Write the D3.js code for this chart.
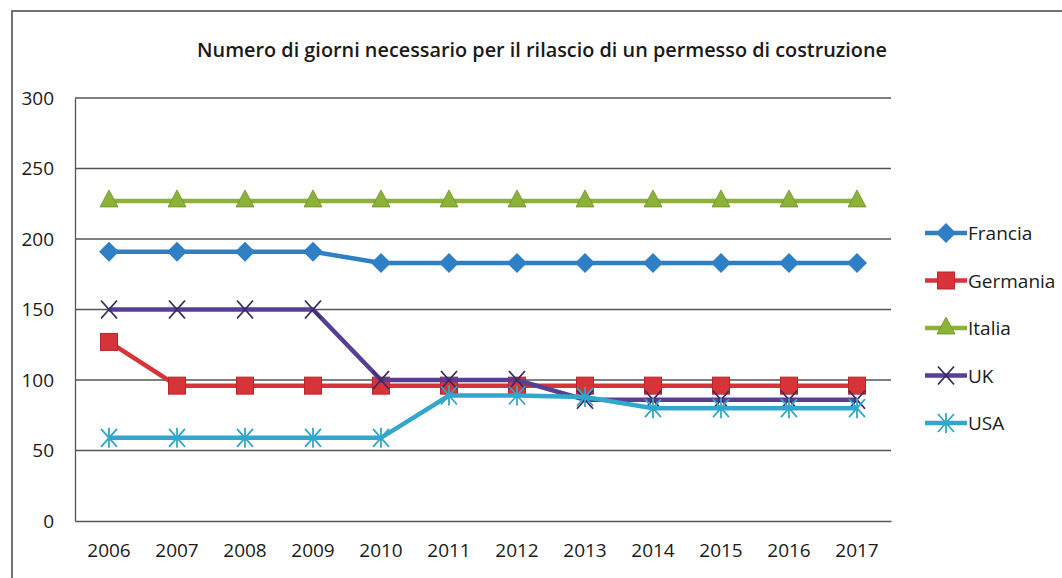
<!DOCTYPE html>
<html lang="it">
<head>
<meta charset="UTF-8">
<title>Permessi di costruzione</title>
<script src="https://cdnjs.cloudflare.com/ajax/libs/d3/7.8.5/d3.min.js"></script>
<style>
  body { margin: 0; background: #fff; }
  text { font-family: "Open Sans", "Liberation Sans", sans-serif; fill: #1a1a1a; }
</style>
</head>
<body>
<svg id="chart" width="1062" height="578"></svg>
<script>
  const years = [2006, 2007, 2008, 2009, 2010, 2011, 2012, 2013, 2014, 2015, 2016, 2017];
  const yTicks = [0, 50, 100, 150, 200, 250, 300];

  const francia  = [191, 191, 191, 191, 183, 183, 183, 183, 183, 183, 183, 183];
  const germania = [127, 96, 96, 96, 96, 96, 96, 96, 96, 96, 96, 96];
  const italia   = [227, 227, 227, 227, 227, 227, 227, 227, 227, 227, 227, 227];
  const uk       = [150, 150, 150, 150, 100, 100, 100, 86, 86, 86, 86, 86];
  const usa      = [59, 59, 59, 59, 59, 89, 89, 88, 80, 80, 80, 80];

  const series = [
    { name: 'Francia',  values: francia,  color: '#2f7fc4', marker: 'diamond' },
    { name: 'Germania', values: germania, color: '#d7343a', marker: 'square' },
    { name: 'Italia',   values: italia,   color: '#8cb23a', marker: 'triangle' },
    { name: 'UK',       values: uk,       color: '#583f92', marker: 'x' },
    { name: 'USA',      values: usa,      color: '#31a7cb', marker: 'star' }
  ];

  const svg = d3.select('#chart');
  const plot = { left: 75, right: 891, top: 98, bottom: 521 };

  // outer frame (only top and left edges show in the scan)
  svg.append('path')
    .attr('d', 'M12,578 L12,11 L1062,11')
    .attr('fill', 'none')
    .attr('stroke', '#444')
    .attr('stroke-width', 1.5);

  svg.append('text')
    .attr('x', 542)
    .attr('y', 57)
    .attr('text-anchor', 'middle')
    .attr('font-size', 19)
    .attr('font-weight', 600)
    .attr('textLength', 690)
    .attr('lengthAdjust', 'spacingAndGlyphs')
    .text('Numero di giorni necessario per il rilascio di un permesso di costruzione');

  const x = d3.scaleBand().domain(years).range([plot.left, plot.right]);
  const y = d3.scaleLinear().domain([0, 300]).range([plot.bottom, plot.top]);

  // gridlines
  svg.append('g')
    .selectAll('line')
    .data(yTicks.filter(d => d > 0))
    .enter()
    .append('line')
    .attr('x1', plot.left)
    .attr('x2', plot.right)
    .attr('y1', d => y(d))
    .attr('y2', d => y(d))
    .attr('stroke', '#555')
    .attr('stroke-width', 1.3);

  const yAxis = svg.append('g')
    .attr('transform', `translate(${plot.left},0)`)
    .call(d3.axisLeft(y).tickValues(yTicks).tickSize(0).tickPadding(21));
  yAxis.select('.domain').attr('stroke', '#555').attr('stroke-width', 1.3);
  yAxis.selectAll('text').attr('font-size', 19).attr('fill', '#1a1a1a');

  const xAxis = svg.append('g')
    .attr('transform', `translate(0,${plot.bottom})`)
    .call(d3.axisBottom(x).tickSize(0).tickPadding(23));
  xAxis.select('.domain').attr('stroke', '#555').attr('stroke-width', 1.3);
  xAxis.selectAll('text').attr('font-size', 19).attr('fill', '#1a1a1a');

  const cx = d => x(d) + x.bandwidth() / 2;
  const line = d3.line()
    .x((d, i) => cx(years[i]))
    .y(d => y(d));

  function drawMarker(g, type, color) {
    if (type === 'diamond') {
      g.append('path').attr('d', 'M0,-10 L10,0 L0,10 L-10,0 Z').attr('fill', color);
    } else if (type === 'square') {
      g.append('rect').attr('x', -8.5).attr('y', -8.5).attr('width', 17).attr('height', 17)
        .attr('fill', color).attr('stroke', '#b8262c').attr('stroke-width', 1);
    } else if (type === 'triangle') {
      g.append('path').attr('d', 'M0,-11 L9,6 L-9,6 Z').attr('fill', color)
        .attr('stroke', '#6f8f2a').attr('stroke-width', 0.8);
    } else if (type === 'x') {
      g.append('path').attr('d', 'M-8,-9 L8,9 M-8,9 L8,-9')
        .attr('stroke', '#3a2a66').attr('stroke-width', 1.8);
    } else if (type === 'star') {
      g.append('path').attr('d', 'M-8,-9 L8,9 M-8,9 L8,-9 M0,-10 L0,10')
        .attr('stroke', color).attr('stroke-width', 1.8);
    }
  }

  series.forEach(s => {
    const g = svg.append('g');
    g.append('path')
      .datum(s.values)
      .attr('d', line)
      .attr('fill', 'none')
      .attr('stroke', s.color)
      .attr('stroke-width', 4.5);
    g.selectAll('.pt')
      .data(s.values)
      .enter()
      .append('g')
      .attr('transform', (d, i) => `translate(${cx(years[i])},${y(d)})`)
      .each(function () { drawMarker(d3.select(this), s.marker, s.color); });
  });

  // legend
  const legend = svg.append('g').attr('transform', 'translate(925,233)');
  series.forEach((s, i) => {
    const row = legend.append('g').attr('transform', `translate(0,${i * 47.5})`);
    row.append('line')
      .attr('x1', 0).attr('x2', 42)
      .attr('stroke', s.color).attr('stroke-width', 4.5);
    drawMarker(row.append('g').attr('transform', 'translate(21,0)'), s.marker, s.color);
    row.append('text')
      .attr('x', 43)
      .attr('y', 7)
      .attr('font-size', 19)
      .text(s.name);
  });
</script>
</body>
</html>
